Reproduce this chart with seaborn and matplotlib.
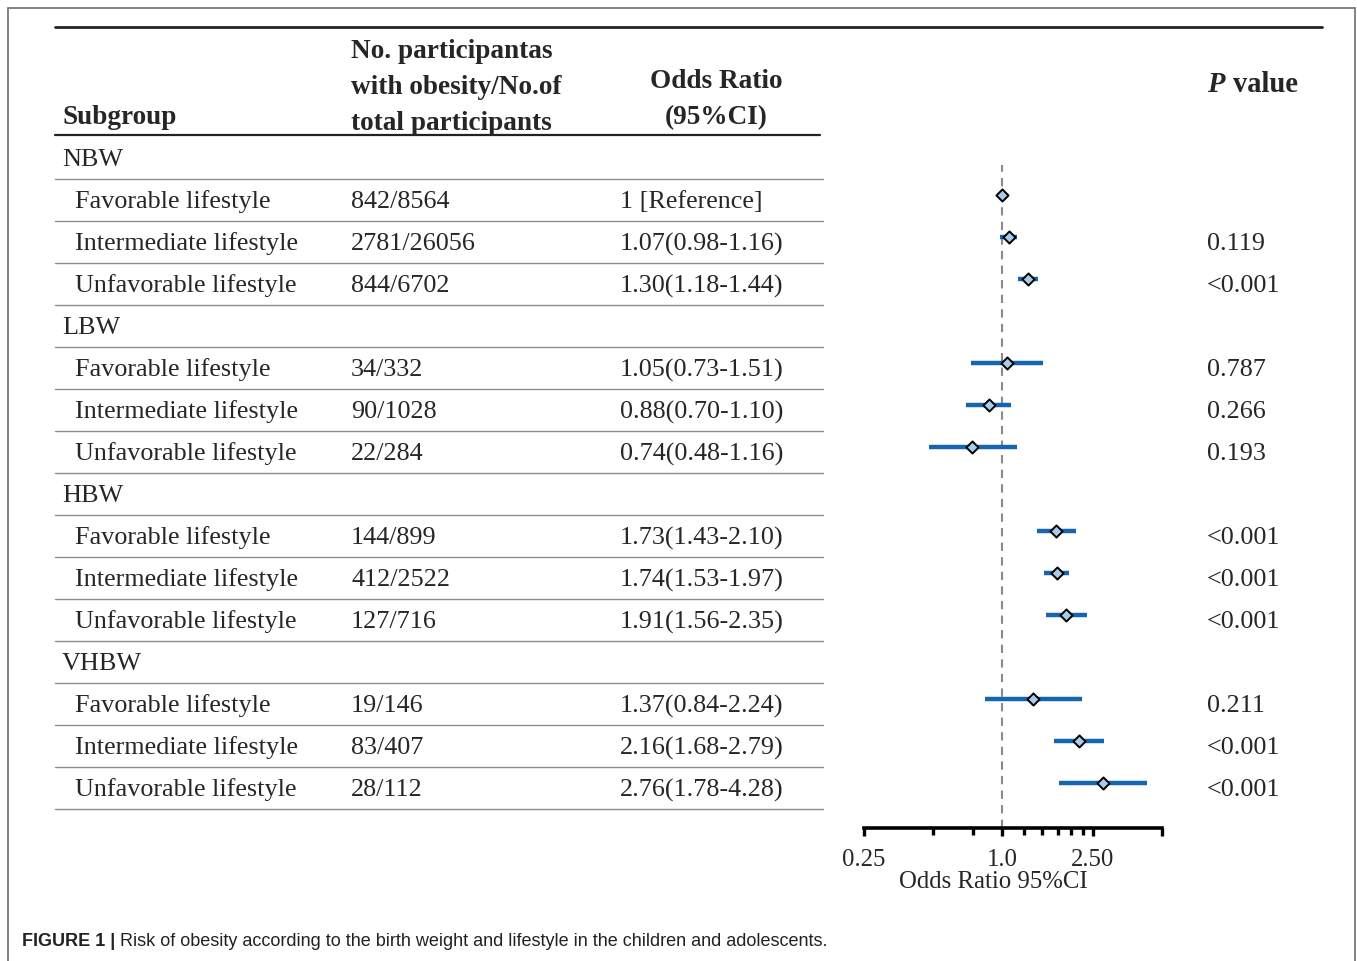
import matplotlib
matplotlib.use("Agg")
import matplotlib.pyplot as plt
from matplotlib.ticker import FixedLocator, NullFormatter
import numpy as np
import pandas as pd
import seaborn as sns

# ---- data ----
groups = ["NBW", "LBW", "HBW", "VHBW"]
lifestyles = ["Favorable lifestyle", "Intermediate lifestyle", "Unfavorable lifestyle"]
counts = ["842/8564", "2781/26056", "844/6702",
          "34/332", "90/1028", "22/284",
          "144/899", "412/2522", "127/716",
          "19/146", "83/407", "28/112"]
odds = [1.00, 1.07, 1.30, 1.05, 0.88, 0.74, 1.73, 1.74, 1.91, 1.37, 2.16, 2.76]
lower = [1.00, 0.98, 1.18, 0.73, 0.70, 0.48, 1.43, 1.53, 1.56, 0.84, 1.68, 1.78]
upper = [1.00, 1.16, 1.44, 1.51, 1.10, 1.16, 2.10, 1.97, 2.35, 2.24, 2.79, 4.28]
p_values = ["", "0.119", "<0.001", "0.787", "0.266", "0.193",
            "<0.001", "<0.001", "<0.001", "0.211", "<0.001", "<0.001"]
tick_major = [0.25, 1.0, 2.5, 5.0]
tick_labels = ["0.25", "1.0", "2.50", ""]
tick_minor = [0.5, 0.75, 1.25, 1.5, 1.75, 2.0, 2.25]

sns.set_theme(style="white")
plt.rcParams["font.family"] = ["Liberation Serif", "DejaVu Serif"]

W, H = 1357, 961
fig = plt.figure(figsize=(W / 100, H / 100), dpi=100)
fig.patch.set_facecolor("white")

# table layer in pixel coordinates
tab = fig.add_axes([0, 0, 1, 1])
tab.set_xlim(0, W)
tab.set_ylim(H, 0)
tab.axis("off")

FS = 18.8
FS_HEAD = 19.6
ROW0, PITCH = 160, 42
MARK0 = 153  # diamonds sit a little above the text centre

# outer frame
frame_col = "#7a7a7a"
tab.plot([8, 8], [8, H], color=frame_col, lw=1.3)
tab.plot([1355, 1355], [8, H], color=frame_col, lw=1.3)
tab.plot([8, 1355], [8, 8], color=frame_col, lw=1.3)

# header rules
tab.plot([55, 1322], [27, 27], color="#222222", lw=2.0)
tab.plot([55, 820], [135, 135], color="#222222", lw=1.6)

# header text
tab.text(62, 118, "Subgroup", fontsize=FS_HEAD, fontweight="bold", va="center")
for txt, yy in zip(["No. participantas", "with obesity/No.of", "total participants"], [51, 87, 123]):
    tab.text(351, yy, txt, fontsize=FS_HEAD, fontweight="bold", va="center")
tab.text(716, 81, "Odds Ratio", fontsize=FS_HEAD, fontweight="bold", va="center", ha="center")
tab.text(716, 118, "(95%CI)", fontsize=FS_HEAD, fontweight="bold", va="center", ha="center")
tab.text(1207, 84, "P", fontsize=FS_HEAD + 1, fontweight="bold", style="italic", va="center")
tab.text(1233, 84, "value", fontsize=FS_HEAD + 1, fontweight="bold", va="center")

# body rows
rows = []
k = 0
for gi, g in enumerate(groups):
    r = gi * 4
    y = ROW0 + PITCH * r
    tab.text(62, y, g, fontsize=FS, va="center")
    tab.plot([55, 823], [ROW0 - 2 + PITCH * r + 21, ROW0 - 2 + PITCH * r + 21], color="#8c8c8c", lw=1.0)
    for j, ls in enumerate(lifestyles):
        r = gi * 4 + 1 + j
        y = ROW0 + PITCH * r
        tab.text(75, y, ls, fontsize=FS, va="center")
        tab.text(351, y, counts[k], fontsize=FS, va="center")
        if k == 0:
            or_txt = "1 [Reference]"
        else:
            or_txt = f"{odds[k]:.2f}({lower[k]:.2f}-{upper[k]:.2f})"
        tab.text(620, y, or_txt, fontsize=FS, va="center")
        tab.text(1207, y, p_values[k], fontsize=FS, va="center")
        tab.plot([55, 823], [y + 19, y + 19], color="#8c8c8c", lw=1.0)
        rows.append(r)
        k += 1

df = pd.DataFrame({"row": rows, "odds": odds, "lower": lower, "upper": upper})

# forest plot axes: x from 864 to 1162 px, y from 165 to 828 px
ax_l, ax_r, ax_t, ax_b = 864, 1162, 165, 828
fx = fig.add_axes([ax_l / W, 1 - ax_b / H, (ax_r - ax_l) / W, (ax_b - ax_t) / H])
fx.patch.set_alpha(0)
fx.set_xscale("log")
fx.set_xlim(0.25, 5.0)
fx.set_ylim((ax_b - MARK0) / PITCH, (ax_t - MARK0) / PITCH)

fx.axvline(1.0, color="#8a8a8a", lw=1.5, ls=(0, (4, 3)), zorder=1)
fx.hlines(df["row"], df["lower"], df["upper"], color="#1565b0", lw=3.2, zorder=2)
sns.scatterplot(data=df, x="odds", y="row", marker="D", s=38, color="#a9cbea",
                edgecolor="black", linewidth=1.4, ax=fx, zorder=3, legend=False)

for side in ["left", "top", "right"]:
    fx.spines[side].set_visible(False)
fx.spines["bottom"].set_color("black")
fx.spines["bottom"].set_linewidth(2.6)
fx.set_yticks([])
fx.set_ylabel("")
fx.xaxis.set_major_locator(FixedLocator(tick_major))
fx.xaxis.set_minor_locator(FixedLocator(tick_minor))
fx.xaxis.set_minor_formatter(NullFormatter())
fx.set_xticklabels(tick_labels)
fx.tick_params(axis="x", which="both", direction="out", bottom=True, color="black",
               width=2.4, length=6, labelsize=17.8, pad=9)
fx.tick_params(axis="x", which="minor", length=5)
fx.set_xlabel("Odds Ratio 95%CI", fontsize=17.8)
fx.xaxis.set_label_coords((993 - ax_l) / (ax_r - ax_l), -(882 - ax_b) / (ax_b - ax_t))
fx.xaxis.label.set_va("center")

# caption
cap_fam = ["Liberation Sans Narrow", "Liberation Sans", "DejaVu Sans"]
t1 = fig.text(22 / W, 1 - 942 / H, "FIGURE 1 |", fontsize=13, fontweight="bold",
              family=cap_fam, va="center", color="#222222")
fig.canvas.draw()
bb = t1.get_window_extent()
fig.text((bb.x1 + 5) / W, 1 - 942 / H,
         "Risk of obesity according to the birth weight and lifestyle in the children and adolescents.",
         fontsize=13, family=cap_fam, va="center", color="#222222")

fig.savefig("out.png", dpi=100, facecolor="white")
